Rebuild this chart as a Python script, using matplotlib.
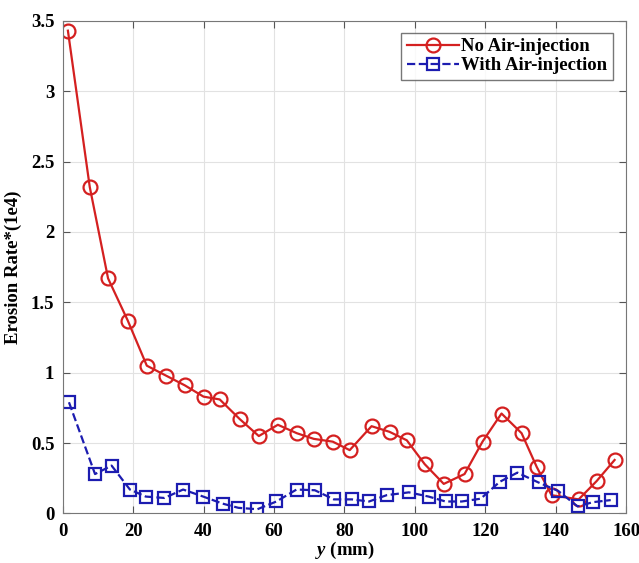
import numpy as np
import matplotlib
matplotlib.use('Agg')
import matplotlib.pyplot as plt

plt.rcParams['font.family'] = 'Liberation Serif'
plt.rcParams['font.weight'] = 'bold'
plt.rcParams['mathtext.fontset'] = 'custom'
plt.rcParams['mathtext.it'] = 'Liberation Serif:italic:bold'

# no air injection
y_no = [1.5, 7.7, 12.9, 18.5, 23.9, 29.3, 34.7, 40.0, 44.6, 50.3,
        55.7, 61.1, 66.5, 71.3, 76.7, 81.5, 87.7, 92.8, 97.7, 102.8,
        108.2, 114.1, 119.2, 124.6, 130.3, 134.6, 138.8, 146.5, 151.6, 156.7]
rate_no = [3.43, 2.32, 1.67, 1.37, 1.05, 0.98, 0.91, 0.83, 0.81, 0.67,
           0.55, 0.63, 0.57, 0.53, 0.51, 0.45, 0.62, 0.58, 0.52, 0.35,
           0.21, 0.28, 0.51, 0.71, 0.57, 0.33, 0.13, 0.10, 0.23, 0.38]

# with air injection
y_air = [1.8, 9.2, 13.9, 19.1, 23.6, 28.9, 34.2, 39.9, 45.4, 49.9,
         55.3, 60.7, 66.4, 71.6, 77.0, 82.1, 87.0, 92.0, 98.3, 103.9,
         108.7, 113.3, 118.7, 124.1, 129.1, 135.1, 140.7, 146.2, 150.5, 155.6]
rate_air = [0.79, 0.28, 0.34, 0.17, 0.12, 0.11, 0.17, 0.12, 0.07, 0.04,
            0.03, 0.085, 0.17, 0.165, 0.10, 0.10, 0.085, 0.13, 0.15, 0.12,
            0.085, 0.085, 0.105, 0.225, 0.29, 0.22, 0.16, 0.05, 0.08, 0.095]

fig = plt.figure(figsize=(6.39, 5.63), dpi=100)
ax = fig.add_axes([0.098, 0.088, 0.882, 0.875])

ax.plot(y_no, rate_no, '-o', color='#d42020', lw=1.6, ms=10,
        mfc='none', mew=1.6, label='No Air-injection')
ax.plot(y_air, rate_air, '--s', color='#1c1cb0', lw=1.6, ms=8.5,
        mfc='none', mew=1.6, label='With Air-injection')

ax.set_xlim(0, 160)
ax.set_ylim(0, 3.5)
ax.set_xticks(np.arange(0, 161, 20))
ax.set_yticks([0, 0.5, 1, 1.5, 2, 2.5, 3, 3.5])
ax.set_yticklabels(['0', '0.5', '1', '1.5', '2', '2.5', '3', '3.5'])
ax.grid(True, color='#e2e2e2', lw=0.8)
ax.set_axisbelow(True)
ax.tick_params(direction='in', top=True, right=True, labelsize=13.5,
               length=5, color='#555555')
ax.tick_params(axis='x', pad=7)
ax.tick_params(axis='y', pad=6)
for s in ax.spines.values():
    s.set_color('#777777')

ax.set_xlabel(r'$y$ (mm)', fontsize=13.5, fontweight='bold', labelpad=0)
ax.set_ylabel('Erosion Rate*(1e4)', fontsize=13.5, fontweight='bold', labelpad=6)

leg = ax.legend(loc='upper right', fontsize=13.5, frameon=True, fancybox=False,
                edgecolor='#555555', borderpad=0.3, handlelength=2.8,
                handletextpad=0.1, labelspacing=0.1, borderaxespad=0,
                bbox_to_anchor=(0.976, 0.976))
leg.get_frame().set_linewidth(1.0)

plt.savefig('out.png', dpi=100)
